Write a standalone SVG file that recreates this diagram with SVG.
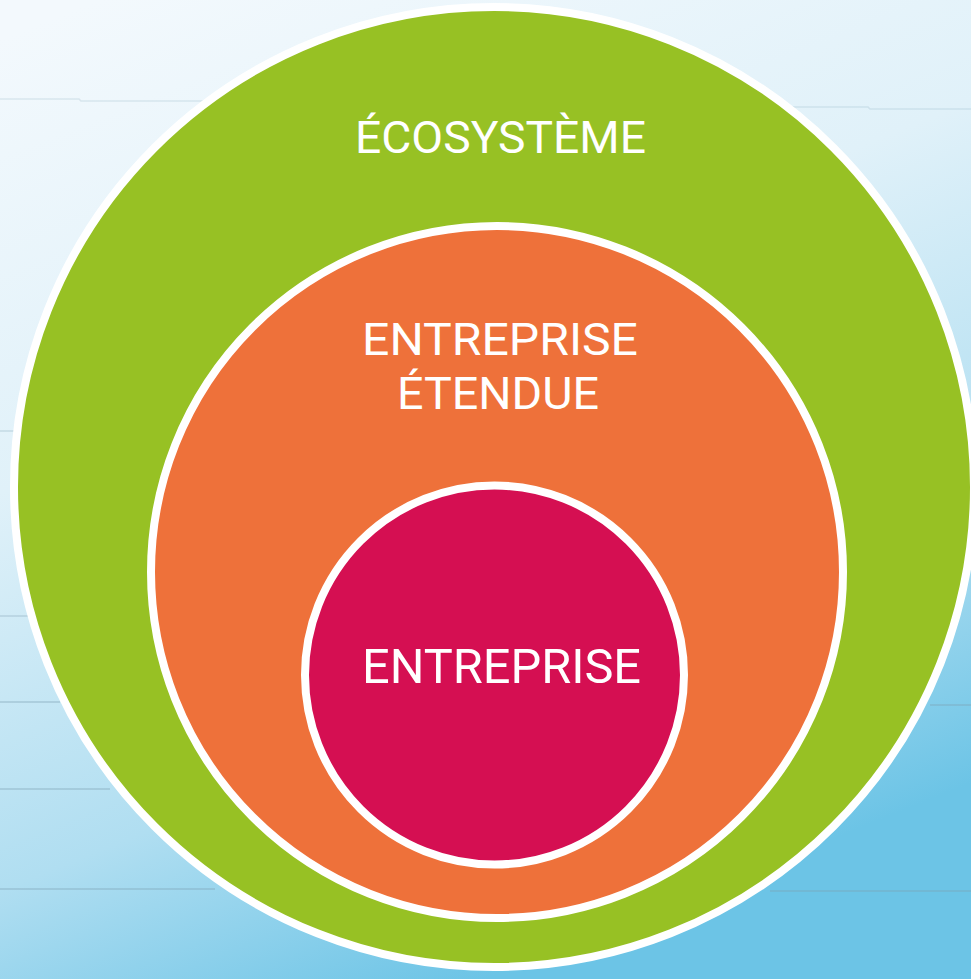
<svg xmlns="http://www.w3.org/2000/svg" width="971" height="979" viewBox="0 0 971 979">
  <defs>
    <linearGradient id="bg" x1="0.1" y1="0" x2="0.5" y2="1">
      <stop offset="0" stop-color="#f3f9fd"/>
      <stop offset="0.4" stop-color="#e0f1f9"/>
      <stop offset="0.75" stop-color="#b0def1"/>
      <stop offset="1" stop-color="#6cc4e6"/>
    </linearGradient>
    <style>
      .ring { stroke: #ffffff; stroke-width: 8; }
      .lbl { font-family: Roboto, "Liberation Sans", Arial, sans-serif; font-weight: 400; fill: #ffffff; text-anchor: middle; }
      .ln { stroke: #7f9fb3; stroke-opacity: 0.45; stroke-width: 1.5; fill: none; }
    </style>
  </defs>
  <rect x="0" y="0" width="971" height="979" fill="url(#bg)"/>
  <g id="background-lines">
    <path class="ln" style="stroke-opacity:0.2" d="M0 99 H79 L81 101 H220"/>
    <path class="ln" style="stroke-opacity:0.2" d="M780 107 H868 L870 109 H971"/>
    <path class="ln" style="stroke-opacity:0.3" d="M0 431 H20"/>
    <path class="ln" style="stroke-opacity:0.35" d="M0 616 H30"/>
    <path class="ln" d="M0 702 H60"/>
    <path class="ln" d="M0 789 H110"/>
    <path class="ln" d="M0 889 H215"/>
    <path class="ln" d="M930 705 H971"/>
    <path class="ln" d="M770 891 H971"/>
  </g>
  <g id="ecosysteme">
    <circle class="ring" cx="494" cy="487" r="480" fill="#97c124"/>
    <text class="lbl" x="500.5" y="153" font-size="43.5" textLength="291" lengthAdjust="spacingAndGlyphs">ÉCOSYSTÈME</text>
  </g>
  <g id="entreprise-etendue">
    <circle class="ring" cx="497" cy="572" r="346" fill="#ee713a"/>
    <text class="lbl" x="500" y="355" font-size="44.5" textLength="276" lengthAdjust="spacingAndGlyphs">ENTREPRISE</text>
    <text class="lbl" x="498" y="409" font-size="44.5" textLength="202" lengthAdjust="spacingAndGlyphs">ÉTENDUE</text>
  </g>
  <g id="entreprise">
    <circle class="ring" cx="494.5" cy="675" r="189.5" fill="#d50f52"/>
    <text class="lbl" x="501.5" y="683" font-size="48" textLength="279" lengthAdjust="spacingAndGlyphs">ENTREPRISE</text>
  </g>
  <g id="connectors"></g>
</svg>
